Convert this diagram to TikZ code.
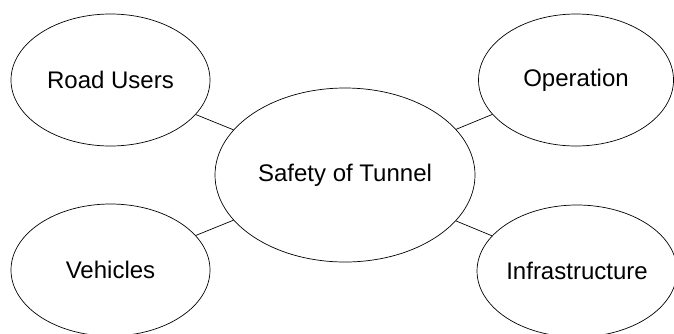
\documentclass[tikz,border=0pt]{standalone}
\usepackage{fontspec}
\setmainfont{Liberation Sans}
\usetikzlibrary{shapes.geometric}
\begin{document}
\begin{tikzpicture}[x=1pt,y=-1pt,
  bubble/.style={draw, ellipse, line width=0.7pt, inner sep=0pt, font=\fontsize{24}{27}\selectfont},
  link/.style={draw, line width=0.7pt}]
\useasboundingbox (0,0) rectangle (674,333);
\clip (0,0) rectangle (674,333);
\node[bubble, minimum width=260pt, minimum height=174pt] (c) at (345,175) {Safety of Tunnel};
\node[bubble, minimum width=199pt, minimum height=132pt] (ru) at (110.5,80) {Road Users};
\node[bubble, minimum width=195pt, minimum height=132pt] (op) at (576,80) {Operation};
\node[bubble, minimum width=199pt, minimum height=132pt] (ve) at (110.5,270) {Vehicles};
\node[bubble, minimum width=194pt, minimum height=132pt] (in) at (577,271) {Infrastructure};
\path[link] (ru) -- (c);
\path[link] (op) -- (c);
\path[link] (ve) -- (c);
\path[link] (in) -- (c);
\end{tikzpicture}
\end{document}
